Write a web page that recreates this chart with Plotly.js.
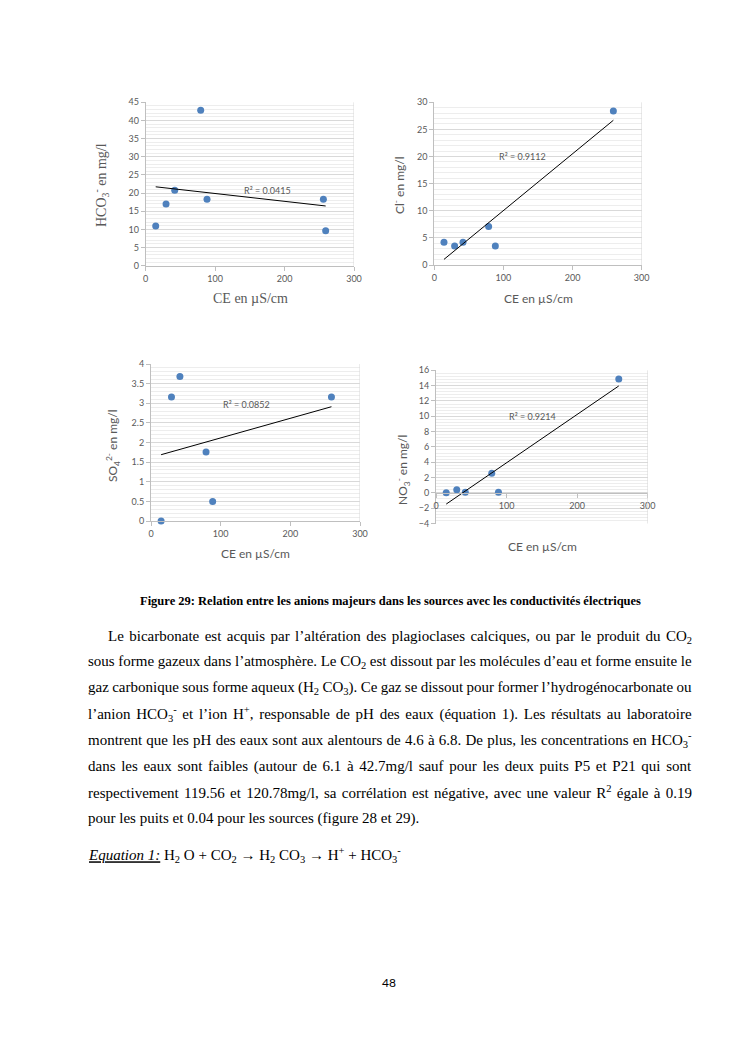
<!DOCTYPE html>
<html><head><meta charset="utf-8">
<script src="https://cdn.plot.ly/plotly-3.0.1.min.js"></script>
<style>html,body{margin:0;padding:0;background:#fff}#page{width:745px;height:1053px}</style>
</head><body><div id="page"></div>
<script>
// ---- Data ----
const ceHCO3 = [14.4, 29.3, 41.8, 79.2, 88.3, 255.9, 259.2];
const hco3   = [10.9, 17.0, 20.8, 42.8, 18.3, 18.3, 9.6];
const ceCl   = [14.0, 29.4, 41.5, 78.6, 88.3, 259.0];
const cl     = [4.2, 3.5, 4.2, 7.1, 3.5, 28.4];
const ceSO4  = [14.5, 29.4, 41.5, 79.0, 88.5, 259.0];
const so4    = [0.0, 3.16, 3.68, 1.76, 0.5, 3.16];
const ceNO3  = [14.5, 29.4, 41.5, 79.0, 88.5, 259.0];
const no3    = [0.0, 0.39, 0.09, 2.57, 0.09, 14.87];
const r2Labels = ['R² = 0.0415', 'R² = 0.9112', 'R² = 0.0852', 'R² = 0.9214'];
const xTickVals = [0, 100, 200, 300];

const W = 745, H = 1053;
const px = p => p / W, py = p => 1 - p / H;
const SANS = 'Lato, "Open Sans", sans-serif';
const SERIF = '"Liberation Serif", "Times New Roman", serif';
const GRAY = '#595959';
const BLUE = '#4F81BD';

function fit(x, y) {
  const n = x.length;
  const mx = x.reduce((a, b) => a + b, 0) / n, my = y.reduce((a, b) => a + b, 0) / n;
  let sxy = 0, sxx = 0;
  for (let i = 0; i < n; i++) { sxy += (x[i] - mx) * (y[i] - my); sxx += (x[i] - mx) ** 2; }
  const b = sxy / sxx, a = my - b * mx;
  const x0 = Math.min(...x), x1 = Math.max(...x);
  return {x: [x0, x1], y: [a + b * x0, a + b * x1]};
}

const sets = [[ceHCO3, hco3], [ceCl, cl], [ceSO4, so4], [ceNO3, no3]];
const traces = [];
sets.forEach((s, i) => {
  const xa = i === 0 ? 'x' : 'x' + (i + 1), ya = i === 0 ? 'y' : 'y' + (i + 1);
  traces.push({x: s[0], y: s[1], xaxis: xa, yaxis: ya, type: 'scatter', mode: 'markers',
    marker: {color: BLUE, size: 7}, cliponaxis: false, hoverinfo: 'skip'});
  const f = fit(s[0], s[1]);
  traces.push({x: f.x, y: f.y, xaxis: xa, yaxis: ya, type: 'scatter', mode: 'lines',
    line: {color: '#000', width: 1}, cliponaxis: false, hoverinfo: 'skip'});
});

function xax(domain, anchor, extra) {
  return Object.assign({domain, anchor, range: [0, 300], tickvals: xTickVals, showgrid: false, zeroline: false,
    showline: true, linecolor: '#BFBFBF', linewidth: 1, ticks: 'outside', ticklen: 4, tickcolor: '#BFBFBF',
    tickfont: {family: SANS, size: 9, color: GRAY}, fixedrange: true}, extra || {});
}
function yax(domain, anchor, range, dtick, minor) {
  return {domain, anchor, range, dtick, tick0: range[0], zeroline: false,
    showline: true, linecolor: '#BFBFBF', linewidth: 1, ticks: 'outside', ticklen: 4, tickcolor: '#BFBFBF',
    showgrid: true, gridcolor: '#D9D9D9', gridwidth: 1,
    minor: {dtick: minor, tick0: range[0], showgrid: true, gridcolor: '#EDEDED', gridwidth: 1, ticks: ''},
    tickfont: {family: SANS, size: 9, color: GRAY}, fixedrange: true};
}

// plot areas (page px)
const P1 = {l: 145.7, r: 354, t: 102.3, b: 265.7};
const P2 = {l: 434.3, r: 641.7, t: 102.3, b: 265};
const P3 = {l: 151, r: 360, t: 364, b: 521};
const P4 = {l: 436, r: 647.7, t: 370.3, b: 523.5};
const yZero4 = P4.b - (P4.b - P4.t) * 4 / 20;

const layout = {
  width: W, height: H, margin: {l: 0, r: 0, t: 0, b: 0}, showlegend: false,
  paper_bgcolor: '#fff', plot_bgcolor: '#fff',
  xaxis: xax([px(P1.l), px(P1.r)], 'y'),
  yaxis: yax([py(P1.b), py(P1.t)], 'x', [0, 45], 5, 1),
  xaxis2: xax([px(P2.l), px(P2.r)], 'y2'),
  yaxis2: yax([py(P2.b), py(P2.t)], 'x2', [0, 30], 5, 1),
  xaxis3: xax([px(P3.l), px(P3.r)], 'y3'),
  yaxis3: yax([py(P3.b), py(P3.t)], 'x3', [0, 4], 0.5, 0.1),
  xaxis4: xax([px(P4.l), px(P4.r)], 'free', {position: py(yZero4)}),
  yaxis4: yax([py(P4.b), py(P4.t)], 'x4', [-4, 16], 2, 0.4),
  shapes: [['x', 'y'], ['x2', 'y2'], ['x3', 'y3'], ['x4', 'y4']].map(a => ({type: 'line', xref: a[0], yref: a[1] + ' domain',
    x0: 300, x1: 300, y0: 0, y1: 1, line: {color: '#D9D9D9', width: 1}})),
  annotations: []
};

function ann(text, x, y, o) {
  layout.annotations.push(Object.assign({text, x: px(x), y: py(y), xref: 'paper', yref: 'paper', showarrow: false,
    xanchor: 'center', yanchor: 'middle', font: {family: SANS, size: 11, color: GRAY}}, o || {}));
  return layout.annotations.length - 1;
}

// R² labels (data coordinates)
[[176, 20.8, 'x', 'y'], [128, 20.0, 'x2', 'y2'], [137, 2.98, 'x3', 'y3'], [137, 9.95, 'x4', 'y4']].forEach((p, i) => {
  layout.annotations.push({text: r2Labels[i], x: p[0], y: p[1], xref: p[2], yref: p[3], showarrow: false,
    font: {family: SANS, size: 9, color: GRAY}});
});

// axis titles
ann('HCO<sub>3</sub><sup>-</sup> en mg/l', 101, 185, {textangle: -90, font: {family: SERIF, size: 14, color: GRAY}});
ann('CE en µS/cm', 250, 298, {font: {family: SERIF, size: 14, color: GRAY}});
ann('Cl<sup>-</sup> en mg/l', 399, 185, {textangle: -90, font: {family: SANS, size: 12, color: GRAY}});
ann('CE en µS/cm', 538, 298, {font: {family: SANS, size: 12, color: GRAY}});
ann('SO<sub>4</sub><sup>2-</sup> en mg/l', 113, 446, {textangle: -90, font: {family: SANS, size: 12, color: GRAY}});
ann('CE en µS/cm', 255, 553, {font: {family: SANS, size: 12, color: GRAY}});
ann('NO<sub>3</sub><sup>-</sup> en mg/l', 403, 470, {textangle: -90, font: {family: SANS, size: 12, color: GRAY}});
ann('CE en µS/cm', 542, 546, {font: {family: SANS, size: 12, color: GRAY}});

// caption and body text
const TXT = {family: SERIF, size: 15, color: '#000'};
ann('<b>Figure 29: Relation entre les anions majeurs dans les sources avec les conductivités électriques</b>', 390, 601,
  {font: {family: SERIF, size: 12.5, color: '#000'}});
const lines = [
  ['Le bicarbonate est acquis par l’altération des plagioclases calciques, ou par le produit du CO<sub>2</sub>', 108, 637, true],
  ['sous forme gazeux dans l’atmosphère. Le CO<sub>2</sub> est dissout par les molécules d’eau et forme ensuite le', 88, 662, true],
  ['gaz carbonique sous forme aqueux (H<sub>2</sub> CO<sub>3</sub>). Ce gaz se dissout pour former l’hydrogénocarbonate ou', 88, 688, true],
  ['l’anion HCO<sub>3</sub><sup>-</sup> et l’ion H<sup>+</sup>, responsable de pH des eaux (équation 1). Les résultats au laboratoire', 88, 714, true],
  ['montrent que les pH des eaux sont aux alentours de 4.6 à 6.8. De plus, les concentrations en HCO<sub>3</sub><sup>-</sup>', 88, 740, true],
  ['dans les eaux sont faibles (autour de 6.1 à 42.7mg/l sauf pour les deux puits P5 et P21 qui sont', 88, 766, true],
  ['respectivement 119.56 et 120.78mg/l, sa corrélation est négative, avec une valeur R<sup>2</sup> égale à 0.19', 88, 792, true],
  ['pour les puits et 0.04 pour les sources (figure 28 et 29).', 88, 818, false],
  ['<i><span style="text-decoration:underline">Equation 1:</span></i> H<sub>2</sub> O + CO<sub>2</sub> → H<sub>2</sub> CO<sub>3</sub> → H<sup>+</sup> + HCO<sub>3</sub><sup>-</sup>', 88, 855, false]
];
const bodyLines = [];
lines.forEach(l => {
  const idx = ann(l[0], l[1], l[2], {xanchor: 'left', align: 'left', font: TXT});
  bodyLines.push([idx, l[1], l[3]]);
});
ann('48', 389, 982, {font: {family: SANS, size: 12, color: '#000'}});

Plotly.newPlot('page', traces, layout, {staticPlot: true, displayModeBar: false}).then(gd => {
  const RIGHT = 692;
  bodyLines.forEach(([idx, left, just]) => {
    const g = gd.querySelector('.annotation[data-index="' + idx + '"]');
    if (!g) return;
    const t = g.querySelector('.annotation-text');
    if (just) {
      const bb0 = t.getBoundingClientRect();
      const n = (t.textContent.match(/ /g) || []).length;
      if (n > 0) t.style.wordSpacing = ((RIGHT - left - bb0.width) / n) + 'px';
    }
    const bb1 = t.getBoundingClientRect();
    const dx = left - bb1.left;
    if (Math.abs(dx) > 0.5) {
      const tr = t.getAttribute('transform') || '';
      t.setAttribute('transform', tr + ' translate(' + dx + ',0)');
    }
  });
});
</script></body></html>
